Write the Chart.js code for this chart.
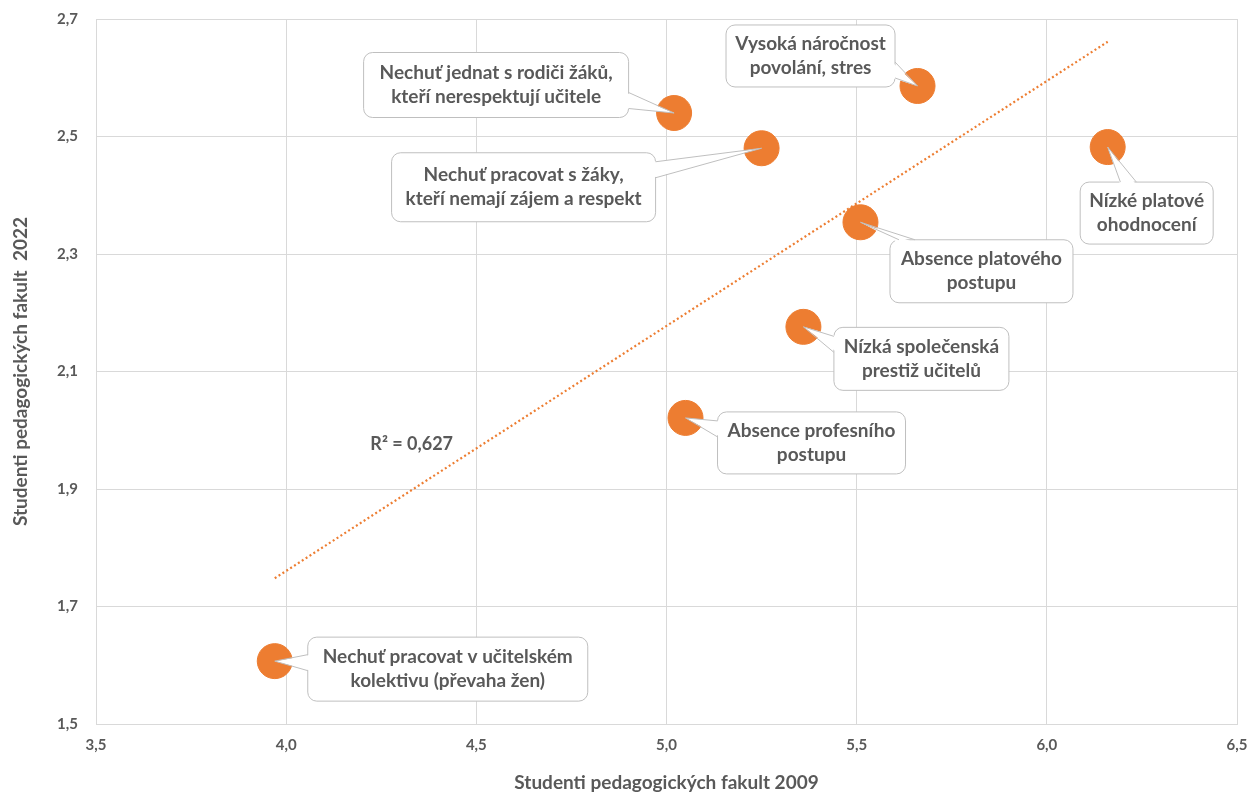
<!DOCTYPE html>
<html>
<head>
<meta charset="utf-8">
<script src="https://cdn.jsdelivr.net/npm/chart.js@4/dist/chart.umd.min.js"></script>
<style>
  html, body { margin: 0; padding: 0; background: #fff; }
  #wrap { width: 1250px; height: 794px; }
</style>
</head>
<body>
<div id="wrap"><canvas id="scatterChart"></canvas></div>
<script>
// ============================
// DATA
// ============================
const reasons = [
    "Nechuť pracovat v učitelském\nkolektivu (převaha žen)",
    "Nechuť jednat s rodiči žáků,\nkteří nerespektují učitele",
    "Nechuť pracovat s žáky,\nkteří nemají zájem a respekt",
    "Vysoká náročnost\npovolání, stres",
    "Nízké platové\nohodnocení",
    "Absence platového\npostupu",
    "Nízká společenská\nprestiž učitelů",
    "Absence profesního\npostupu"
];
const students2009 = [3.97, 5.02, 5.25, 5.66, 6.16, 5.51, 5.36, 5.05];
const students2022 = [1.607, 2.54, 2.48, 2.586, 2.482, 2.354, 2.176, 2.021];
const rSquared = 0.627;

const xTicks = [3.5, 4.0, 4.5, 5.0, 5.5, 6.0, 6.5];
const yTicks = [1.5, 1.7, 1.9, 2.1, 2.3, 2.5, 2.7];

// callout boxes: offset of box centre from the point (px) and box size
const calloutLayout = [
    { dx: 173, dy: 8, w: 280, h: 64 },
    { dx: -178, dy: -28, w: 265, h: 65 },
    { dx: -238, dy: 39, w: 264, h: 69 },
    { dx: -107, dy: -30, w: 169, h: 62 },
    { dx: 39, dy: 66, w: 133, h: 62 },
    { dx: 121, dy: 49, w: 183, h: 63 },
    { dx: 118, dy: 32, w: 175, h: 63 },
    { dx: 126, dy: 25, w: 188, h: 62 }
];
const rLabelAt = { x: 4.33, y: 1.977 };

// ============================
// STYLE
// ============================
const ORANGE = "#ED7D31";
const TEXT = "#595959";
const GRID = "#D9D9D9";
const FONT = "Lato, 'Open Sans', sans-serif";

const fmt = v => v.toFixed(1).replace(".", ",");

// linear trend (least squares) from the points
function trendLine(xs, ys) {
    const n = xs.length;
    const mx = xs.reduce((a, b) => a + b, 0) / n;
    const my = ys.reduce((a, b) => a + b, 0) / n;
    let sxy = 0, sxx = 0;
    for (let i = 0; i < n; i++) {
        sxy += (xs[i] - mx) * (ys[i] - my);
        sxx += (xs[i] - mx) * (xs[i] - mx);
    }
    const k = sxy / sxx;
    const x0 = Math.min(...xs), x1 = Math.max(...xs);
    return [{ x: x0, y: my + k * (x0 - mx) }, { x: x1, y: my + k * (x1 - mx) }];
}

// ============================
// CALLOUT PLUGIN
// ============================
function roundRect(ctx, x, y, w, h, r) {
    ctx.beginPath();
    ctx.moveTo(x + r, y);
    ctx.lineTo(x + w - r, y);
    ctx.arcTo(x + w, y, x + w, y + r, r);
    ctx.lineTo(x + w, y + h - r);
    ctx.arcTo(x + w, y + h, x + w - r, y + h, r);
    ctx.lineTo(x + r, y + h);
    ctx.arcTo(x, y + h, x, y + h - r, r);
    ctx.lineTo(x, y + r);
    ctx.arcTo(x, y, x + r, y, r);
    ctx.closePath();
}

const calloutPlugin = {
    id: "callouts",
    afterDatasetsDraw(chart) {
        const ctx = chart.ctx;
        const xs = chart.scales.x, ys = chart.scales.y;
        ctx.save();
        reasons.forEach((label, i) => {
            const px = xs.getPixelForValue(students2009[i]);
            const py = ys.getPixelForValue(students2022[i]);
            const L = calloutLayout[i];
            const cx = px + L.dx, cy = py + L.dy;
            const bx = cx - L.w / 2, by = cy - L.h / 2;
            const r = 9, half = 8;

            // pointer base on the box edge facing the point
            const vx = px - cx, vy = py - cy;
            let b1, b2, inset;
            if (Math.abs(vx) / (L.w / 2) > Math.abs(vy) / (L.h / 2)) {
                const ex = vx > 0 ? bx + L.w : bx;
                let ey = cy + vy * (ex - cx) / vx;
                ey = Math.max(by + r + half, Math.min(by + L.h - r - half, ey));
                b1 = [ex, ey - half]; b2 = [ex, ey + half];
                inset = [vx > 0 ? -3 : 3, 0];
            } else {
                const ey = vy > 0 ? by + L.h : by;
                let ex = cx + vx * (ey - cy) / vy;
                ex = Math.max(bx + r + half, Math.min(bx + L.w - r - half, ex));
                b1 = [ex - half, ey]; b2 = [ex + half, ey];
                inset = [0, vy > 0 ? -3 : 3];
            }

            ctx.lineWidth = 1;
            ctx.strokeStyle = "#BFBFBF";
            ctx.fillStyle = "#FFFFFF";
            roundRect(ctx, bx, by, L.w, L.h, r);
            ctx.fill();
            ctx.stroke();

            // wedge, covering the border where it joins the box
            ctx.beginPath();
            ctx.moveTo(b1[0] + inset[0], b1[1] + inset[1]);
            ctx.lineTo(px, py);
            ctx.lineTo(b2[0] + inset[0], b2[1] + inset[1]);
            ctx.closePath();
            ctx.fill();
            ctx.beginPath();
            ctx.moveTo(b1[0], b1[1]);
            ctx.lineTo(px, py);
            ctx.lineTo(b2[0], b2[1]);
            ctx.stroke();

            ctx.fillStyle = TEXT;
            ctx.font = "bold 19px " + FONT;
            ctx.textAlign = "center";
            ctx.textBaseline = "middle";
            const lines = label.split("\n");
            const lh = 24;
            lines.forEach((t, j) => {
                ctx.fillText(t, cx, cy + (j - (lines.length - 1) / 2) * lh);
            });
        });

        // R² label
        ctx.fillStyle = TEXT;
        ctx.font = "bold 18px " + FONT;
        ctx.textAlign = "center";
        ctx.textBaseline = "middle";
        ctx.fillText("R² = " + rSquared.toFixed(3).replace(".", ","),
            xs.getPixelForValue(rLabelAt.x), ys.getPixelForValue(rLabelAt.y));
        ctx.restore();
    }
};

// ============================
// CHART
// ============================
const ctx = document.getElementById("scatterChart").getContext("2d");

new Chart(ctx, {
    type: "scatter",
    data: {
        datasets: [
            {
                label: "Důvody",
                data: students2009.map((x, i) => ({ x: x, y: students2022[i] })),
                backgroundColor: ORANGE,
                borderColor: ORANGE,
                pointRadius: 17.5,
                pointHoverRadius: 17.5,
                borderWidth: 1,
                order: 0
            },
            {
                type: "line",
                label: "Trend",
                data: trendLine(students2009, students2022),
                borderColor: ORANGE,
                borderWidth: 2.2,
                borderDash: [2, 2.6],
                pointRadius: 0,
                fill: false,
                order: 1
            }
        ]
    },
    options: {
        responsive: true,
        maintainAspectRatio: false,
        animation: false,
        layout: { autoPadding: false, padding: { top: 19, right: 13, left: 0, bottom: 0 } },
        scales: {
            x: {
                type: "linear",
                min: 3.5,
                max: 6.5,
                afterBuildTicks: s => { s.ticks = xTicks.map(v => ({ value: v })); },
                afterFit: s => { s.height = 70; s.paddingLeft = 0; s.paddingRight = 0; },
                ticks: {
                    color: TEXT,
                    font: { family: FONT, size: 15, weight: "bold" },
                    padding: 12,
                    callback: v => fmt(v)
                },
                grid: { color: GRID, lineWidth: 1, drawTicks: false },
                border: { color: GRID, width: 1 },
                title: {
                    display: true,
                    text: "Studenti pedagogických fakult 2009",
                    color: TEXT,
                    font: { family: FONT, size: 19, weight: "bold" },
                    padding: { top: 0, bottom: 0 }
                }
            },
            y: {
                min: 1.5,
                max: 2.7,
                afterBuildTicks: s => { s.ticks = yTicks.map(v => ({ value: v })); },
                afterFit: s => { s.width = 96; s.paddingTop = 0; s.paddingBottom = 0; },
                ticks: {
                    color: TEXT,
                    font: { family: FONT, size: 15, weight: "bold" },
                    padding: 18,
                    callback: v => fmt(v)
                },
                grid: { color: GRID, lineWidth: 1, drawTicks: false },
                border: { color: GRID, width: 1 },
                title: {
                    display: true,
                    text: "Studenti pedagogických fakult  2022",
                    color: TEXT,
                    font: { family: FONT, size: 19, weight: "bold" },
                    padding: { top: 9, bottom: 0 }
                }
            }
        },
        plugins: {
            legend: { display: false },
            tooltip: { enabled: false }
        }
    },
    plugins: [calloutPlugin]
});
</script>
</body>
</html>
